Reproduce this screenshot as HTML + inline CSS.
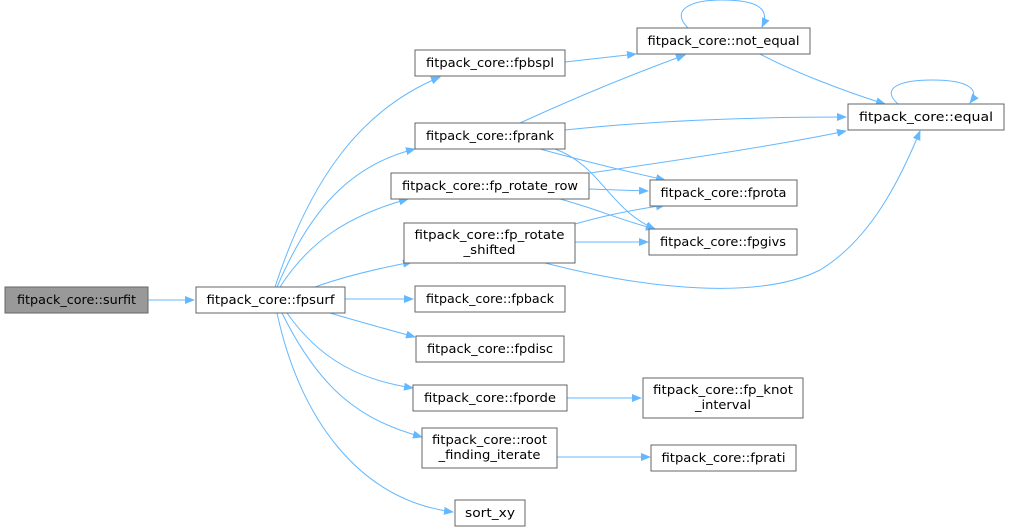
<!DOCTYPE html>
<html><head><meta charset="utf-8"><style>
body{margin:0;background:#fff}
svg{display:block}
text{font-family:"DejaVu Sans","Liberation Sans",sans-serif;font-size:12px;fill:#000}
.n{fill:#fff;stroke:#666;stroke-width:1}
.e{fill:none;stroke:#63b8ff;stroke-width:1}
</style></head><body>
<svg width="1009" height="532" viewBox="0 0 1009 532" xmlns="http://www.w3.org/2000/svg">
<defs><marker id="a" markerWidth="10" markerHeight="8" refX="9" refY="4" orient="auto" markerUnits="userSpaceOnUse"><path d="M0,0 L10,4 L0,8 z" fill="#63b8ff"/></marker></defs>
<g class="e" marker-end="url(#a)">
<path d="M148,300 L194,300"/>
<path d="M275,287 C310,180 360,110 440,77"/>
<path d="M277,287 C310,210 350,165 415,149"/>
<path d="M280,287 C310,240 350,215 408,199"/>
<path d="M315,287 C340,278 370,270 412,262"/>
<path d="M345,299 L413,299"/>
<path d="M330,313 C360,322 390,330 415,337"/>
<path d="M287,313 C320,360 360,380 413,388"/>
<path d="M282,313 C320,390 360,420 422,437"/>
<path d="M277,313 C300,420 360,500 453,512"/>
<path d="M565,62 L636,54"/>
<path d="M520,123 C570,100 630,75 685,55"/>
<path d="M760,54 C790,70 840,90 885,104"/>
<path d="M565,130 C660,120 760,117 846,117"/>
<path d="M590,173 C680,160 780,145 846,131"/>
<path d="M540,149 C580,160 620,170 665,180"/>
<path d="M555,149 C600,165 610,210 655,229"/>
<path d="M589,189 L648,191"/>
<path d="M560,199 C600,210 620,220 655,229"/>
<path d="M575,224 C600,217 620,212 665,205"/>
<path d="M575,242 L648,242"/>
<path d="M545,263 C650,290 760,300 820,270 C870,240 900,180 920,131"/>
<path d="M567,398 L641,398"/>
<path d="M557,457 L650,457"/>
<path d="M688,28 C670,10 690,0 722,0 C760,0 770,10 762,27"/>
<path d="M898,104 C880,88 900,80 932,80 C970,80 980,90 970,103"/>
</g>
<g text-anchor="middle" lengthAdjust="spacingAndGlyphs">
<rect x="5" y="287" width="143" height="26" fill="#999" stroke="#666"/><text x="76.5" y="304" textLength="119" lengthAdjust="spacingAndGlyphs">fitpack_core::surfit</text>
<rect class="n" x="196" y="287" width="149" height="26"/><text x="270.5" y="304" textLength="128" lengthAdjust="spacingAndGlyphs">fitpack_core::fpsurf</text>
<rect class="n" x="415" y="50" width="150" height="26"/><text x="490" y="67" textLength="128" lengthAdjust="spacingAndGlyphs">fitpack_core::fpbspl</text>
<rect class="n" x="415" y="123" width="150" height="26"/><text x="490" y="140" textLength="128" lengthAdjust="spacingAndGlyphs">fitpack_core::fprank</text>
<rect class="n" x="391" y="173" width="198" height="26"/><text x="490" y="190" textLength="176" lengthAdjust="spacingAndGlyphs">fitpack_core::fp_rotate_row</text>
<rect class="n" x="404" y="223" width="171" height="40"/><text x="489.5" y="239" textLength="150" lengthAdjust="spacingAndGlyphs">fitpack_core::fp_rotate</text><text x="489.5" y="254" textLength="52" lengthAdjust="spacingAndGlyphs">_shifted</text>
<rect class="n" x="415" y="286" width="150" height="26"/><text x="490" y="303" textLength="128" lengthAdjust="spacingAndGlyphs">fitpack_core::fpback</text>
<rect class="n" x="416" y="336" width="148" height="26"/><text x="490" y="353" textLength="126" lengthAdjust="spacingAndGlyphs">fitpack_core::fpdisc</text>
<rect class="n" x="413" y="385" width="154" height="26"/><text x="490" y="402" textLength="132" lengthAdjust="spacingAndGlyphs">fitpack_core::fporde</text>
<rect class="n" x="422" y="428" width="135" height="40"/><text x="489.5" y="444" textLength="115" lengthAdjust="spacingAndGlyphs">fitpack_core::root</text><text x="489.5" y="459" textLength="102" lengthAdjust="spacingAndGlyphs">_finding_iterate</text>
<rect class="n" x="455" y="500" width="70" height="26"/><text x="490" y="517" textLength="50" lengthAdjust="spacingAndGlyphs">sort_xy</text>
<rect class="n" x="637" y="28" width="173" height="26"/><text x="723.5" y="45" textLength="152" lengthAdjust="spacingAndGlyphs">fitpack_core::not_equal</text>
<rect class="n" x="848" y="104" width="156" height="26"/><text x="926" y="121" textLength="134" lengthAdjust="spacingAndGlyphs">fitpack_core::equal</text>
<rect class="n" x="650" y="180" width="147" height="26"/><text x="723.5" y="197" textLength="126" lengthAdjust="spacingAndGlyphs">fitpack_core::fprota</text>
<rect class="n" x="649" y="229" width="148" height="26"/><text x="723" y="246" textLength="126" lengthAdjust="spacingAndGlyphs">fitpack_core::fpgivs</text>
<rect class="n" x="643" y="378" width="160" height="40"/><text x="723" y="394" textLength="140" lengthAdjust="spacingAndGlyphs">fitpack_core::fp_knot</text><text x="723" y="409" textLength="56" lengthAdjust="spacingAndGlyphs">_interval</text>
<rect class="n" x="651" y="445" width="145" height="26"/><text x="723.5" y="462" textLength="124" lengthAdjust="spacingAndGlyphs">fitpack_core::fprati</text>
</g>
</svg>
</body></html>
